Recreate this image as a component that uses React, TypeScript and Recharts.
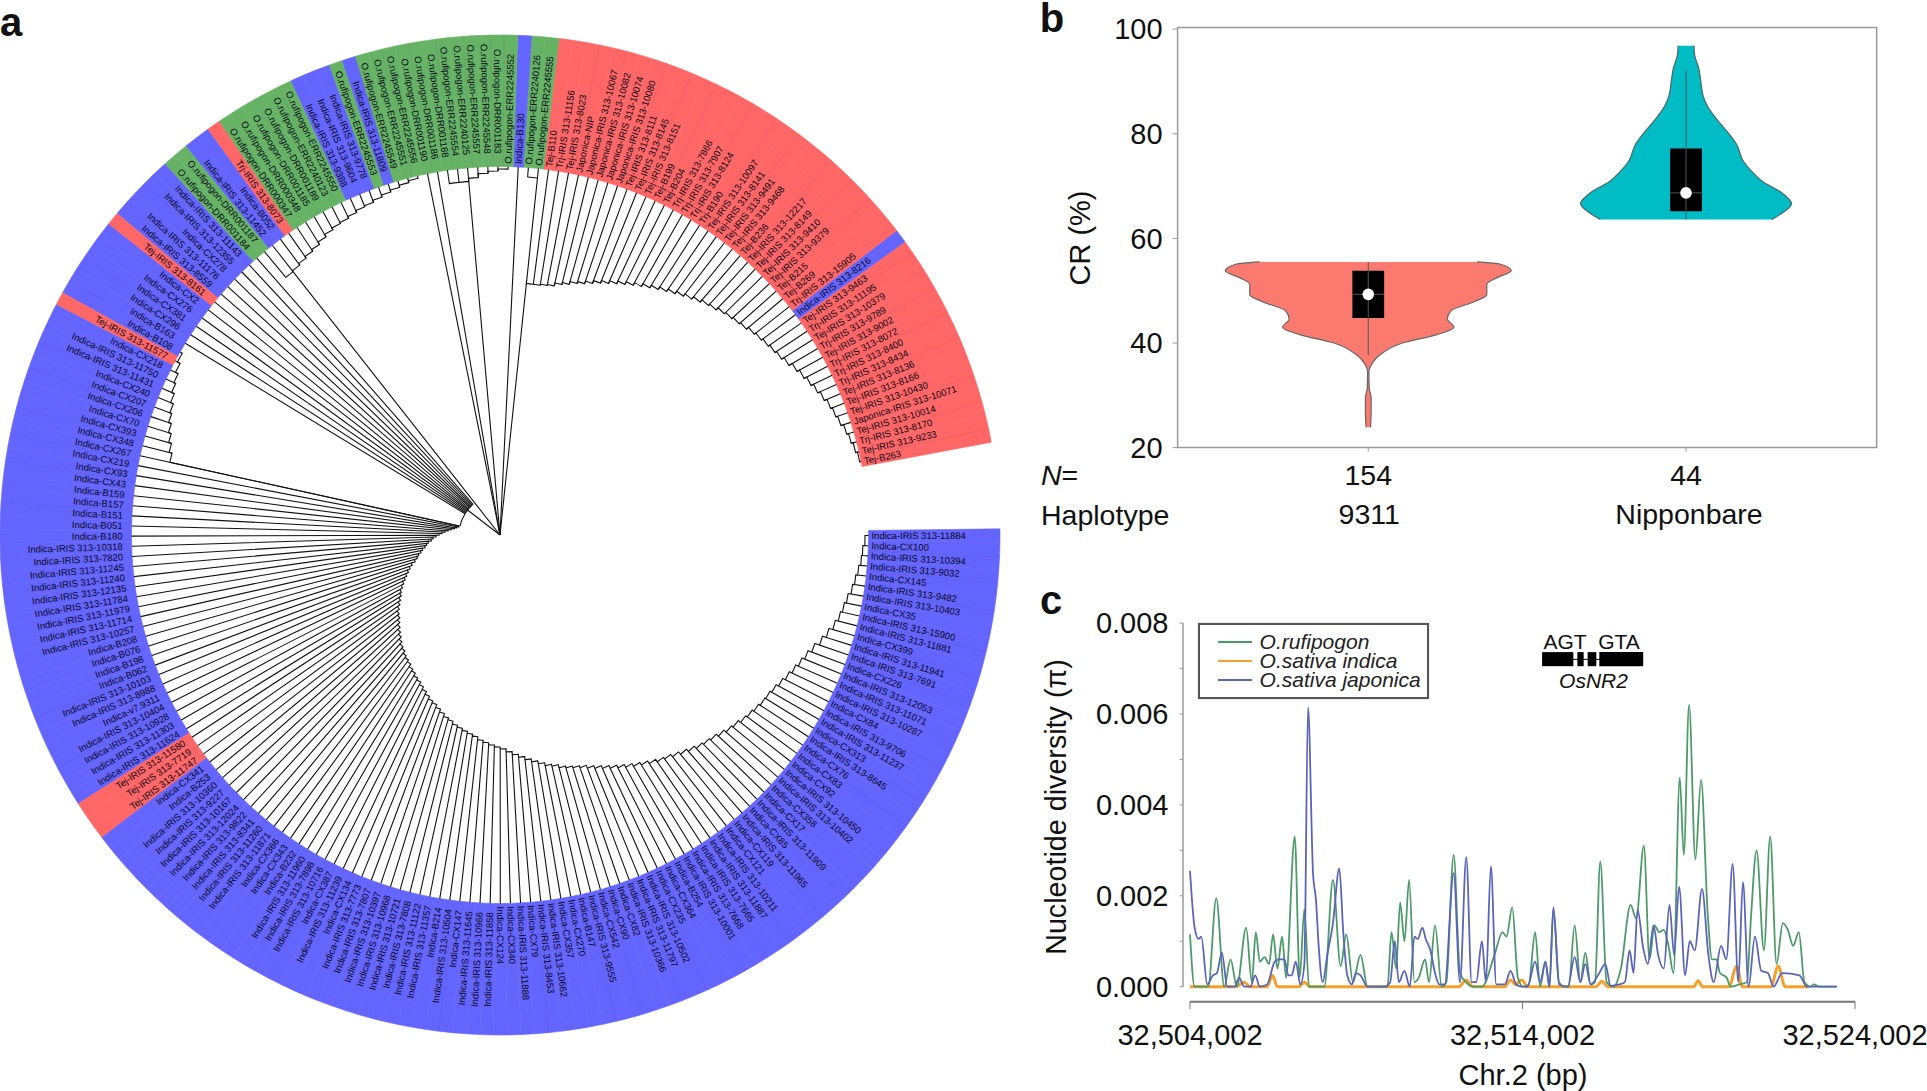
import React from 'react';
import {
  PieChart, Pie, ComposedChart, Area, Line, XAxis, YAxis,
  ReferenceArea, ReferenceLine, ReferenceDot, Legend
} from 'recharts';

const FONT = '"Liberation Sans", Arial, sans-serif';

// panel a: taxa, counter-clockwise from the open end of the ring
const taxa = [
  'Tej-B263', 'Tej-IRIS 313-9233', 'Trj-IRIS 313-8170', 'Tej-IRIS 313-10014', 'Japonica-IRIS 313-10071', 'Tej-IRIS 313-10430', 'Tej-IRIS 313-8166', 'Tej-IRIS 313-8136', 'Trj-IRIS 313-8434', 'Trj-IRIS 313-8400',
  'Trj-IRIS 313-8072', 'Tej-IRIS 313-9002', 'Trj-IRIS 313-9789', 'Tej-IRIS 313-10379', 'Trj-IRIS 313-11195', 'Tej-IRIS 313-9463', 'Indica-IRIS 313-8216', 'Trj-IRIS 313-15905', 'Tej-B269', 'Tej-B215',
  'Tej-IRIS 313-9379', 'Tej-IRIS 313-9410', 'Tej-IRIS 313-8149', 'Tej-IRIS 313-12217', 'Tej-B236', 'Tej-IRIS 313-9468', 'Tej-IRIS 313-9491', 'Tej-IRIS 313-8141', 'Tej-IRIS 313-10097', 'Trj-B190',
  'Trj-IRIS 313-8124', 'Trj-IRIS 313-7907', 'Trj-IRIS 313-7866', 'Tej-B204', 'Tej-B199', 'Tej-IRIS 313-8151', 'Tej-IRIS 313-8145', 'Tej-IRIS 313-8111', 'Japonica-IRIS 313-10080', 'Japonica-IRIS 313-10074',
  'Japonica-IRIS 313-10082', 'Japonica-IRIS 313-10067', 'Japonica-NIP', 'Tej-IRIS 313-8023', 'Trj-IRIS 313-11156', 'Tej-B110', 'O.rufipogon-ERR2245555', 'O.rufipogon-ERR2240126', 'Indica-B130', 'O.rufipogon-ERR2245552',
  'O.rufipogon-DRR001183', 'O.rufipogon-ERR2245548', 'O.rufipogon-ERR2245557', 'O.rufipogon-ERR2240125', 'O.rufipogon-ERR2245554', 'O.rufipogon-DRR001188', 'O.rufipogon-DRR001186', 'O.rufipogon-DRR001190', 'O.rufipogon-ERR2245556', 'O.rufipogon-ERR2245551',
  'O.rufipogon-ERR2245549', 'Indica-IRIS 313-11809', 'O.rufipogon-ERR2245553', 'Indica-IRIS 313-9778', 'Indica-IRIS 313-9604', 'Indica-IRIS 313-9388', 'O.rufipogon-ERR2245550', 'O.rufipogon-ERR2240123', 'O.rufipogon-DRR001189', 'O.rufipogon-DRR001185',
  'O.rufipogon-DRR000348', 'O.rufipogon-DRR000347', 'Trj-IRIS 313-8073', 'Indica-B052', 'Indica-IRIS 313-11452', 'O.rufipogon-DRR001187', 'O.rufipogon-DRR001184', 'Indica-IRIS 313-11143', 'Indica-IRIS 313-12355', 'Indica-CX278',
  'Indica-IRIS 313-11176', 'Indica-IRIS 313-8559', 'Tej-IRIS 313-8161', 'Indica-CX2', 'Indica-CX276', 'Indica-CX381', 'Indica-CX296', 'Indica-B163', 'Indica-B108', 'Tej-IRIS 313-11577',
  'Indica-CX218', 'Indica-IRIS 313-11750', 'Indica-IRIS 313-11431', 'Indica-CX240', 'Indica-CX207', 'Indica-CX206', 'Indica-CX70', 'Indica-CX393', 'Indica-CX348', 'Indica-CX267',
  'Indica-CX219', 'Indica-CX93', 'Indica-CX43', 'Indica-B159', 'Indica-B157', 'Indica-B151', 'Indica-B051', 'Indica-B180', 'Indica-IRIS 313-10318', 'Indica-IRIS 313-7820',
  'Indica-IRIS 313-11245', 'Indica-IRIS 313-11240', 'Indica-IRIS 313-12135', 'Indica-IRIS 313-11784', 'Indica-IRIS 313-11979', 'Indica-IRIS 313-11714', 'Indica-IRIS 313-10257', 'Indica-B208', 'Indica-B076', 'Indica-B198',
  'Indica-B062', 'Indica-IRIS 313-10103', 'Indica-IRIS 313-8988', 'Indica-v7.9311', 'Indica-IRIS 313-10404', 'Indica-IRIS 313-10928', 'Indica-IRIS 313-11303', 'Indica-IRIS 313-11624', 'Tej-IRIS 313-11580', 'Tej-IRIS 313-7719',
  'Tej-IRIS 313-11747', 'Indica-CX341', 'Indica-B253', 'Indica-IRIS 313-10360', 'Indica-IRIS 313-9227', 'Indica-IRIS 313-10167', 'Indica-IRIS 313-12024', 'Indica-IRIS 313-9822', 'Indica-IRIS 313-8341', 'Indica-IRIS 313-11260',
  'Indica-IRIS 313-11871', 'Indica-CX366', 'Indica-CX343', 'Indica-B232', 'Indica-IRIS 313-11960', 'Indica-IRIS 313-7898', 'Indica-IRIS 313-10716', 'Indica-CX387', 'Indica-IRIS 313-11239', 'Indica-CX134',
  'Indica-IRIS 313-7773', 'Indica-IRIS 313-7807', 'Indica-IRIS 313-10397', 'Indica-IRIS 313-10968', 'Indica-IRIS 313-10721', 'Indica-IRIS 313-7808', 'Indica-IRIS 313-11122', 'Indica-IRIS 313-11357', 'Indica-B214', 'Indica-IRIS 313-10504',
  'Indica-CX147', 'Indica-IRIS 313-11645', 'Indica-IRIS 313-10966', 'Indica-IRIS 313-11858', 'Indica-CX124', 'Indica-CX340', 'Indica-IRIS 313-11888', 'Indica-CX79', 'Indica-IRIS 313-8453', 'Indica-IRIS 313-10662',
  'Indica-CX357', 'Indica-CX270', 'Indica-B147', 'Indica-IRIS 313-9555', 'Indica-CX542', 'Indica-CX90', 'Indica-CX82', 'Indica-IRIS 313-10366', 'Indica-IRIS 313-11797', 'Indica-IRIS 313-10502',
  'Indica-CX235', 'Indica-CX364', 'Indica-B254', 'Indica-IRIS 313-10001', 'Indica-IRIS 313-7668', 'Indica-IRIS 313-7665', 'Indica-IRIS 313-11887', 'Indica-IRIS 313-10211', 'Indica-CX121', 'Indica-CX119',
  'Indica-IRIS 313-11965', 'Indica-CX85', 'Indica-IRIS 313-11909', 'Indica-CX17', 'Indica-CX358', 'Indica-IRIS 313-10402', 'Indica-IRIS 313-10450', 'Indica-CX92', 'Indica-CX83', 'Indica-CX76',
  'Indica-IRIS 313-8645', 'Indica-CX313', 'Indica-IRIS 313-11237', 'Indica-IRIS 313-9706', 'Indica-CX84', 'Indica-IRIS 313-10287', 'Indica-IRIS 313-11071', 'Indica-IRIS 313-12053', 'Indica-CX226', 'Indica-IRIS 313-7691',
  'Indica-IRIS 313-11941', 'Indica-CX399', 'Indica-IRIS 313-11881', 'Indica-IRIS 313-15900', 'Indica-CX35', 'Indica-IRIS 313-10403', 'Indica-IRIS 313-9482', 'Indica-CX145', 'Indica-IRIS 313-9032', 'Indica-IRIS 313-10394',
  'Indica-CX100', 'Indica-IRIS 313-11884',
];

// radius of each taxon's tree node
const nodeRadius = [
  367, 365, 363, 361, 358, 356, 354, 351, 348, 345,
  342, 339, 335, 332, 330, 328, 326, 324, 321, 319,
  317, 315, 312, 310, 307, 304, 301, 298, 295, 292,
  289, 286, 283, 280, 277, 274, 271, 268, 265, 263,
  260, 258, 255, 254, 253, 253, 359, 359, 0, 366,
  364, 362, 358, 355, 355, 362, 0, 0, 366, 364,
  362, 360, 358, 356, 355, 353, 351, 350, 348, 345,
  342, 340, 338, 336, 335, 336, 41, 41, 41, 41,
  41, 41, 41, 41, 41, 41, 41, 41, 366, 363,
  360, 358, 355, 352, 350, 347, 344, 341, 338, 42,
  44, 46, 49, 52, 55, 58, 61, 64, 67, 69,
  72, 74, 76, 79, 81, 84, 86, 89, 93, 96,
  99, 102, 105, 108, 111, 114, 116, 119, 122, 125,
  128, 130, 133, 136, 139, 142, 145, 148, 150, 153,
  155, 157, 160, 162, 165, 167, 170, 173, 176, 179,
  181, 184, 187, 190, 192, 195, 197, 199, 201, 203,
  206, 208, 210, 212, 214, 217, 220, 223, 226, 229,
  232, 235, 237, 240, 242, 244, 246, 249, 252, 255,
  258, 261, 264, 267, 270, 273, 276, 278, 281, 284,
  287, 290, 292, 294, 297, 300, 302, 305, 307, 309,
  311, 312, 314, 317, 320, 323, 326, 329, 333, 338,
  342, 346, 349, 351, 353, 356, 358, 360, 362, 363,
  365, 366,
];

const ladderBreaks = [47, 48, 55, 56, 57, 75, 87];
const rootStems = [[46, 253], [53, 355], [74, 335], [83, 41]];
const sliceDividers = [
  1, 3, 5, 8, 10, 12, 15, 20, 22, 24, 27, 29, 31, 34, 36, 38, 41, 43,
  50, 51, 53, 55, 57, 59, 61, 67, 69, 79, 81, 86, 88, 93, 95, 98, 100, 102, 105,
  121, 125, 147, 160, 168, 173, 175, 178, 180, 183, 185, 187, 190, 192, 194, 197,
  199, 201, 204, 206, 209, 211, 213, 216, 218, 220,
];

const groupColors = { indica: '#6464ff', rufipogon: '#66b366', temperate: '#ff6666' };
const groupOf = (name: string) =>
  name.startsWith('Indica') ? 'indica' : name.startsWith('O.rufipogon') ? 'rufipogon' : 'temperate';

const ringData = taxa.map((name) => {
  const color = groupColors[groupOf(name)];
  return { name, value: 1, fill: color, stroke: color };
});

// panel b: half widths of each violin along CR, in axis units
const crA = [55.5, 55.1, 53.8, 52.5, 51.2, 49.2, 47.9, 46.2, 44.6, 43, 41.6, 40, 37.7, 36, 34.4, 31.5, 29.5, 26.9, 23.9];
const widthA = [0.342, 0.414, 0.45, 0.405, 0.373, 0.373, 0.333, 0.261, 0.249, 0.27, 0.216, 0.108, 0.036, 0.011, 0.002, 0.003, 0.009, 0.009, 0.007];
const crB = [96.85, 95.1, 92.5, 89.8, 87.2, 85.2, 82.6, 80, 78, 74.8, 72.8, 70.8, 68.9, 66.6, 64.6, 63.6];
const widthB = [0.025, 0.027, 0.04, 0.047, 0.054, 0.068, 0.099, 0.135, 0.159, 0.18, 0.207, 0.243, 0.297, 0.332, 0.297, 0.27];
const sampleCounts = ['154', '44'];
const haplotypes = ['9311', 'Nipponbare'];
const crTicks = [20, 40, 60, 80, 100];

const violinA = crA.map((cr, i) => ({ cr, range: [1 - widthA[i], 1 + widthA[i]] }));
const violinB = crB.map((cr, i) => ({ cr, range: [2 - widthB[i], 2 + widthB[i]] }));

// panel c: positions in kb from the window start, pi in units of 0.001
const rufipogonKb = [0, 0.14, 0.55, 0.79, 1.03, 1.22, 1.41, 1.69, 1.86, 1.98, 2.1, 2.24, 2.38, 2.5, 2.63, 2.77, 2.89, 3.15, 3.3, 3.44, 3.58, 4.04, 4.3, 4.53, 4.7, 4.9, 5.13, 5.34, 5.94, 6.06, 6.2, 6.32, 6.45, 6.59, 6.75, 6.88, 7.07, 7.19, 7.37, 7.57, 7.71, 7.93, 8.12, 8.3, 8.52, 8.78, 9.16, 9.4, 9.52, 9.69, 9.86, 10.02, 10.19, 10.38, 10.53, 10.69, 10.81, 10.93, 11.1, 11.27, 11.39, 11.57, 11.74, 11.89, 12.05, 12.18, 12.34, 12.53, 12.74, 12.96, 13.25, 13.42, 13.65, 13.82, 13.97, 14.11, 14.25, 14.39, 14.54, 14.73, 14.85, 15.01, 15.2, 15.37, 15.57, 15.7, 15.83, 15.94, 16.14, 16.26, 16.52, 16.75, 16.87, 17.04, 17.26, 17.45, 17.64, 17.83, 17.98, 18.14, 18.31, 18.48, 18.67, 18.76, 18.93, 19.45];
const rufipogonPi = [1.15, 0, 0, 1.95, 0, 0.6, 0, 1.3, 0.1, 1.2, 0.55, 0.65, 0.5, 1.15, 0.4, 1.1, 0.2, 3.3, 0.2, 1.7, 0, 0, 2.35, 0.45, 1.15, 0.1, 0.7, 0, 0, 1.2, 0.4, 1.85, 1, 2.35, 0.1, 0.2, 0.6, 0.1, 1.35, 0, 0.1, 2.9, 0.3, 0.1, 0, 0, 0.7, 1.2, 1.1, 1.75, 0.2, 0, 0.05, 1.2, 0, 0.55, 0, 1.7, 0.1, 0, 0, 1.35, 0.1, 0.75, 0.05, 0.1, 2.75, 0.1, 0, 0.4, 1.8, 1.5, 3.1, 0.6, 1.35, 1.2, 1.25, 0.9, 0.3, 4.6, 2.9, 6.2, 2.8, 4.55, 1.6, 0.6, 0.6, 0.3, 0.2, 0, 0.05, 0.1, 1.5, 3, 0.8, 3.3, 0.5, 1.4, 1.25, 0.9, 1.2, 0.1, 0, 0.05, 0, 0];
const japonicaKb = [0, 0.14, 0.26, 0.34, 0.52, 0.69, 0.81, 0.96, 1.12, 1.34, 1.48, 1.63, 1.82, 1.96, 2.1, 2.32, 2.55, 2.68, 2.84, 2.96, 3.06, 3.18, 3.32, 3.44, 3.55, 3.7, 3.79, 3.87, 3.99, 4.13, 4.3, 4.49, 4.61, 4.73, 4.87, 4.99, 5.13, 5.34, 5.85, 6.02, 6.16, 6.28, 6.45, 6.61, 6.75, 6.85, 6.99, 7.09, 7.23, 7.37, 7.5, 7.66, 7.93, 8.12, 8.31, 8.47, 8.61, 8.78, 8.9, 9.05, 9.21, 9.47, 9.64, 9.81, 9.98, 10.15, 10.38, 10.53, 10.69, 10.81, 10.93, 11.1, 11.36, 11.57, 11.74, 11.89, 12.05, 12.31, 12.49, 12.65, 12.91, 13.08, 13.22, 13.34, 13.46, 13.63, 13.77, 13.94, 14.08, 14.25, 14.42, 14.56, 14.71, 14.89, 15.03, 15.18, 15.4, 15.59, 15.75, 15.97, 16.13, 16.32, 16.49, 16.63, 16.8, 16.99, 17.18, 17.38, 17.55, 17.81, 18.33, 18.55, 19.45];
const japonicaPi = [2.55, 1.3, 1.05, 1.1, 0.05, 0.25, 0.3, 0.75, 0, 0, 0.2, 0, 0, 0.25, 0, 0.05, 0.55, 0.6, 0.6, 0.25, 0.25, 0.55, 0.05, 0.5, 6.15, 2.5, 1.9, 0.9, 0.1, 0.7, 1.4, 2.6, 1.2, 0.25, 0.05, 0.3, 0.25, 0, 0, 0.1, 1, 0.1, 0.35, 0, 1.1, 1.05, 1.3, 1.05, 0.8, 0.3, 0.05, 0.05, 2.5, 0.1, 2.85, 0.1, 0.1, 1, 0.1, 2.65, 0.05, 0.05, 0.35, 0.05, 0, 0, 0.55, 0.1, 0.55, 0, 1.75, 0.05, 0, 0.65, 0.1, 0.5, 0.05, 0.3, 0.5, 0.02, 0.05, 0.1, 0.8, 0.3, 1.7, 0.85, 0.5, 1.35, 0.7, 0.4, 1.8, 0.7, 2.2, 0.25, 1, 0.8, 2.15, 0.7, 0.1, 0.9, 0.6, 2.7, 0.1, 2.3, 0, 1.1, 0.35, 0.3, 0, 0.3, 0.25, 0, 0];
const indicaKb = [0, 1.38, 1.63, 1.81, 2.32, 2.48, 2.63, 3.27, 3.44, 3.61, 8.09, 8.3, 8.52, 9.47, 9.64, 9.78, 9.98, 10.15, 12.22, 12.39, 12.56, 15.15, 15.28, 15.42, 16.21, 16.44, 16.61, 17.47, 17.69, 17.9, 18.6];
const indicaPi = [0, 0, 0.1, 0, 0, 0.25, 0, 0, 0.1, 0, 0, 0.15, 0, 0, 0.15, 0.05, 0.15, 0, 0, 0.12, 0, 0, 0.13, 0, 0, 0.45, 0, 0, 0.45, 0, 0];
const piTicks = [0, 1, 2, 3, 4, 5, 6, 7, 8];
const kbTicks = [0, 10, 20];
const kbTickLabels = ['32,504,002', '32,514,002', '32,524,002'];
const geneExonsKb = [[10.59, 11.53], [11.65, 11.84], [11.96, 12.22], [12.31, 13.63]];

const toPoints = (kb: number[], pi: number[]) => kb.map((x, i) => ({ kb: x, pi: pi[i] }));

const RING_CX = 500;
const RING_CY = 535;
const RING_START = 10.7;
const RING_END = 360.7;
const INNER_R = 368.5;
const OUTER_R = 500;

const polar = (r: number, deg: number) => {
  const rad = (deg * Math.PI) / 180;
  return [RING_CX + r * Math.cos(rad), RING_CY - r * Math.sin(rad)];
};

const renderTaxon = (props: any) => {
  const { midAngle, index, payload, percent } = props;
  const step = percent * (RING_END - RING_START);
  const name = payload?.name ?? props.name;
  const [tx, ty] = polar(INNER_R, midAngle);
  const r = nodeRadius[index];
  const [nx, ny] = polar(r, midAngle);
  let d = `M${tx},${ty}L${nx},${ny}`;
  if (index < taxa.length - 1 && !ladderBreaks.includes(index)) {
    const next = midAngle + step;
    const [ax, ay] = polar(r, next);
    const [bx, by] = polar(nodeRadius[index + 1], next);
    d += `A${r},${r} 0 0 0 ${ax},${ay}L${bx},${by}`;
  }
  const stem = rootStems.find((s) => s[0] === index);
  if (stem) {
    const [sx, sy] = polar(stem[1], midAngle);
    d += `M${RING_CX},${RING_CY}L${sx},${sy}`;
  }
  if (index === 87) {
    // closes the star of long tips onto the lower ladder
    const [ax, ay] = polar(41, midAngle);
    const [bx, by] = polar(41, midAngle + 12 * step);
    d += `M${ax},${ay}A41,41 0 0 0 ${bx},${by}`;
  }
  const boundary = midAngle - step / 2;
  const [d1x, d1y] = polar(INNER_R, boundary);
  const [d2x, d2y] = polar(OUTER_R, boundary);

  const right = Math.cos((midAngle * Math.PI) / 180) > 0;
  const gap = right ? 3 : midAngle < 150 ? 13 : 9;
  const [lx, ly] = polar(INNER_R + gap, midAngle);
  const rotate = right ? -midAngle : 180 - midAngle;
  return (
    <g key={name + index}>
      <path d={d} fill="none" stroke="#111" strokeWidth={1.1} />
      {sliceDividers.includes(index) && (
        <line x1={d1x} y1={d1y} x2={d2x} y2={d2y} stroke="#000" strokeOpacity={0.12} strokeWidth={0.7} />
      )}
      <text
        x={lx}
        y={ly}
        dy="0.35em"
        textAnchor={right ? 'start' : 'end'}
        transform={`rotate(${rotate} ${lx} ${ly})`}
        fontFamily={FONT}
        fontSize={9.5}
        fill="#0a0a1a"
      >
        {name}
      </text>
    </g>
  );
};

const ViolinTick = (props: any) => {
  const { x, y, index } = props;
  return (
    <g fontFamily={FONT} fontSize={28.5} fill="#111" textAnchor="middle">
      <text x={x} y={y + 31}>{sampleCounts[index]}</text>
      <text x={x + (index === 1 ? 3 : 1)} y={y + 70.5}>{haplotypes[index]}</text>
    </g>
  );
};

const DiversityLegend = ({ payload }: any) => (
  <div
    style={{
      width: 231, height: 76, border: '2px solid #555', boxSizing: 'border-box',
      background: '#fff', fontFamily: FONT, fontSize: 21, fontStyle: 'italic', lineHeight: '19px',
      padding: '7px 0 0 18px', color: '#222', boxShadow: '0 0 1px #999',
    }}
  >
    {(payload || []).map((p: any) => (
      <div key={p.value} style={{ display: 'flex', alignItems: 'center', height: 19 }}>
        <span style={{ width: 34, height: 2, flexShrink: 0, background: p.color, marginRight: 8 }} />
        {p.value}
      </div>
    ))}
  </div>
);

const Note = ({ x, y, children, size = 28.5, rotate = 0, italic = false, bold = false, anchor = '-50%' }: any) => (
  <div
    style={{
      position: 'absolute', left: x, top: y, transform: `translate(${anchor},-50%) rotate(${rotate}deg)`,
      fontFamily: FONT, fontSize: size, fontStyle: italic ? 'italic' : 'normal',
      fontWeight: bold ? 700 : 400, whiteSpace: 'nowrap', color: '#111', lineHeight: 1,
    }}
  >
    {children}
  </div>
);

export default function App() {
  const grey = '#9a9a9a';
  return (
    <div style={{ position: 'absolute', left: 0, top: 0, width: 1927, height: 1091, overflow: 'hidden', background: '#fff' }}>
      <div style={{ position: 'absolute', left: 0, top: 0 }}>
        <PieChart width={1030} height={1060} margin={{ top: 0, right: 0, bottom: 0, left: 0 }}>
          <Pie
            data={ringData}
            dataKey="value"
            cx={RING_CX}
            cy={RING_CY}
            innerRadius={INNER_R}
            outerRadius={OUTER_R}
            startAngle={RING_START}
            endAngle={RING_END}
            strokeWidth={0.6}
            label={renderTaxon}
            labelLine={false}
            isAnimationActive={false}
          />
        </PieChart>
      </div>

      <div style={{ position: 'absolute', left: 1030, top: 0 }}>
        <ComposedChart
          layout="vertical"
          width={897}
          height={540}
          margin={{ top: 27.6, right: 50.3, bottom: 22.4, left: 0 }}
        >
          <XAxis
            type="number"
            domain={[0.4, 2.6]}
            ticks={[1, 2]}
            interval={0}
            height={70}
            tickSize={4}
            axisLine={false}
            tickLine={{ stroke: grey }}
            tick={<ViolinTick />}
          />
          <YAxis
            type="number"
            dataKey="cr"
            reversed
            domain={[20, 100.3]}
            ticks={crTicks}
            interval={0}
            width={147.6}
            tickSize={5}
            tickMargin={10}
            axisLine={false}
            tickLine={{ stroke: grey }}
            tick={{ fontFamily: FONT, fontSize: 29, fill: '#111' }}
          />
          <ReferenceArea x1={0.4} x2={2.6} y1={20} y2={100.3} fill="none" stroke={grey} strokeWidth={1.5} />
          <Area data={violinA} dataKey="range" type="monotone" fill="#fa7a70" fillOpacity={1} stroke="#666" strokeWidth={1.2} isAnimationActive={false} dot={false} activeDot={false} />
          <Area data={violinB} dataKey="range" type="monotone" fill="#00bcc4" fillOpacity={1} stroke="#4f6668" strokeWidth={1.2} isAnimationActive={false} dot={false} activeDot={false} />
          <ReferenceLine segment={[{ x: 1, y: 55.5 }, { x: 1, y: 37.7 }]} stroke="#555" strokeWidth={1} />
          <ReferenceLine segment={[{ x: 2, y: 92.1 }, { x: 2, y: 63.6 }]} stroke="#555" strokeWidth={1} />
          <ReferenceArea x1={0.95} x2={1.05} y1={44.8} y2={53.8} fill="#000" fillOpacity={1} />
          <ReferenceArea x1={1.95} x2={2.05} y1={65.2} y2={77.2} fill="#000" fillOpacity={1} />
          <ReferenceLine segment={[{ x: 0.95, y: 49.3 }, { x: 1.05, y: 49.3 }]} stroke="#555" strokeWidth={1} />
          <ReferenceLine segment={[{ x: 1.95, y: 68.7 }, { x: 2.05, y: 68.7 }]} stroke="#555" strokeWidth={1} />
          <ReferenceDot x={1} y={49.3} r={5.8} fill="#fff" stroke="none" />
          <ReferenceDot x={2} y={68.7} r={5.8} fill="#fff" stroke="none" />
        </ComposedChart>
      </div>

      <div style={{ position: 'absolute', left: 1030, top: 590 }}>
        <ComposedChart width={897} height={501} margin={{ top: 33, right: 72, bottom: 29.3, left: 0 }}>
          <XAxis
            type="number"
            dataKey="kb"
            domain={[-0.21, 20]}
            allowDataOverflow
            ticks={kbTicks}
            interval={0}
            height={60}
            tickSize={7.4}
            axisLine={false}
            tickLine={{ stroke: '#777' }}
            tickFormatter={(_v: number, i: number) => kbTickLabels[i]}
            tick={{ fontFamily: FONT, fontSize: 29, fill: '#111', dy: 13 }}
          />
          <YAxis
            type="number"
            domain={[-0.33, 8]}
            allowDataOverflow
            ticks={piTicks}
            interval={0}
            width={153}
            tickSize={3.5}
            tickMargin={11}
            axisLine={false}
            tickLine={{ stroke: grey }}
            tickFormatter={(v: number) => (v % 2 === 0 ? (v / 1000).toFixed(3) : '')}
            tick={{ fontFamily: FONT, fontSize: 29, fill: '#111' }}
          />
          <ReferenceLine segment={[{ x: -0.21, y: 0 }, { x: -0.21, y: 8 }]} stroke={grey} strokeWidth={1.5} />
          <ReferenceLine segment={[{ x: 0, y: -0.33 }, { x: 20, y: -0.33 }]} stroke="#777" strokeWidth={2} />
          <Line name="O.sativa indica" data={toPoints(indicaKb, indicaPi)} dataKey="pi" type="monotone" stroke="#f5a02a" strokeWidth={3} dot={false} activeDot={false} isAnimationActive={false} />
          <Line name="O.rufipogon" data={toPoints(rufipogonKb, rufipogonPi)} dataKey="pi" type="monotone" stroke="#4c9a68" strokeWidth={1.8} dot={false} activeDot={false} isAnimationActive={false} />
          <Line name="O.sativa japonica" data={toPoints(japonicaKb, japonicaPi)} dataKey="pi" type="monotone" stroke="#5a64b8" strokeWidth={1.8} dot={false} activeDot={false} isAnimationActive={false} />
          {geneExonsKb.map(([from, to]) => (
            <ReferenceArea key={from} x1={from} x2={to} y1={7.05} y2={7.36} fill="#000" fillOpacity={1} />
          ))}
          <ReferenceLine segment={[{ x: 10.59, y: 7.2 }, { x: 13.63, y: 7.2 }]} stroke="#000" strokeWidth={1} />
          <Legend
            layout="vertical"
            align="center"
            verticalAlign="middle"
            content={(p: any) => {
              const order = ['O.rufipogon', 'O.sativa indica', 'O.sativa japonica'];
              const sorted = [...(p.payload || [])].sort((a, b) => order.indexOf(a.value) - order.indexOf(b.value));
              return <DiversityLegend payload={sorted} />;
            }}
            wrapperStyle={{ position: 'absolute', left: 167.6, top: 33, width: 231, height: 76 }}
          />
        </ComposedChart>
      </div>

      <Note x={11} y={22} size={40} bold>a</Note>
      <Note x={1052} y={18} size={40} bold>b</Note>
      <Note x={1051} y={600} size={40} bold>c</Note>

      <Note x={1080} y={238} size={29} rotate={-90}>CR (%)</Note>
      <Note x={1041} y={475} anchor="0%"><i>N</i>=</Note>
      <Note x={1041} y={515} anchor="0%">Haplotype</Note>

      <Note x={1056} y={807} size={28.7} rotate={-90}>Nucleotide diversity (π)</Note>
      <Note x={1523} y={1075} size={29}>Chr.2 (bp)</Note>
      <Note x={1565} y={641} size={21}>AGT</Note>
      <Note x={1619} y={641} size={21}>GTA</Note>
      <Note x={1593.5} y={680} size={21} italic>OsNR2</Note>
    </div>
  );
}
